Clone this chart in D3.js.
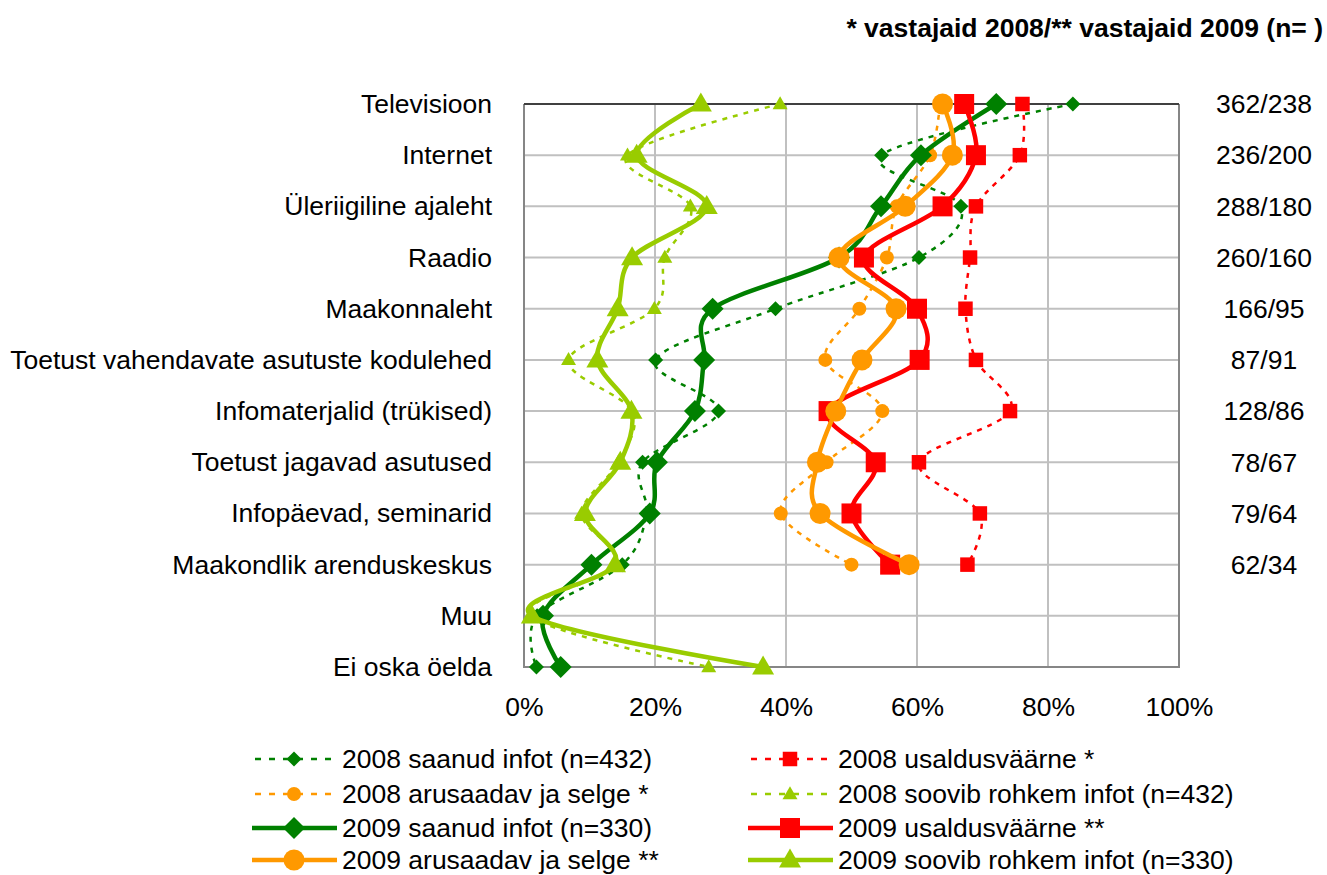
<!DOCTYPE html>
<html>
<head>
<meta charset="utf-8">
<script src="https://cdn.jsdelivr.net/npm/d3@7"></script>
<style>
  body { margin: 0; background: #fff; }
  text { font-family: "Liberation Sans", Arial, sans-serif; fill: #000; }
</style>
</head>
<body>
<div id="chart"></div>
<script>
// categories (top to bottom)
const categories = [
  "Televisioon", "Internet", "Üleriigiline ajaleht", "Raadio", "Maakonnaleht",
  "Toetust vahendavate asutuste kodulehed", "Infomaterjalid (trükised)",
  "Toetust jagavad asutused", "Infopäevad, seminarid", "Maakondlik arenduskeskus",
  "Muu", "Ei oska öelda"
];
const nLabels = ["362/238", "236/200", "288/180", "260/160", "166/95", "87/91",
  "128/86", "78/67", "79/64", "62/34", "", ""];
const xTicks = [0, 20, 40, 60, 80, 100];

// values in %
const saanud2008 = [83.8, 54.6, 66.7, 60.3, 38.4, 20.1, 29.7, 18.1, 18.7, 15.0, 2.0, 1.9];
const usaldus2008 = [76.1, 75.7, 69.0, 68.1, 67.4, 69.0, 74.2, 60.3, 69.6, 67.7, null, null];
const arusaadav2008 = [63.5, 62.0, 56.9, 55.4, 51.2, 46.0, 54.7, 46.2, 39.2, 50.0, null, null];
const soovib2008 = [39.1, 15.8, 25.4, 21.5, 19.9, 6.8, 16.5, 14.4, 8.8, 14.0, 1.0, 28.2];
const saanud2009 = [72.1, 60.6, 54.5, 48.1, 28.8, 27.5, 26.1, 20.3, 19.2, 10.3, 2.9, 5.6];
const usaldus2009 = [67.2, 69.0, 63.9, 51.9, 60.0, 60.4, 46.5, 53.7, 50.0, 55.9, null, null];
const arusaadav2009 = [63.9, 65.4, 58.2, 48.1, 56.8, 51.6, 47.6, 44.8, 45.2, 58.8, null, null];
const soovib2009 = [27.0, 17.2, 27.9, 16.5, 14.3, 11.2, 16.4, 14.7, 9.3, 13.9, 1.2, 36.5];

const seriesNames = [
  "2008 saanud infot (n=432)", "2008 usaldusväärne *",
  "2008 arusaadav ja selge *", "2008 soovib rohkem infot (n=432)",
  "2009 saanud infot (n=330)", "2009 usaldusväärne **",
  "2009 arusaadav ja selge **", "2009 soovib rohkem infot (n=330)"
];
const seriesValues = [saanud2008, usaldus2008, arusaadav2008, soovib2008,
  saanud2009, usaldus2009, arusaadav2009, soovib2009];
const seriesColors = ["#008000", "#ff0000", "#ff9900", "#99cc00",
  "#008000", "#ff0000", "#ff9900", "#99cc00"];
const seriesMarkers = ["diamond", "square", "circle", "triangle",
  "diamond", "square", "circle", "triangle"];

const width = 1327, height = 875;
const plot = { left: 524, right: 1179, top: 104, bottom: 667 };
const fontSize = "26.5px";

const svg = d3.select("#chart").append("svg")
  .attr("width", width).attr("height", height);

const xScale = d3.scaleLinear().domain([0, 100]).range([plot.left, plot.right]);
const yScale = d3.scalePoint().domain(categories).range([plot.top, plot.bottom]);

// gridlines
svg.append("g").selectAll("line")
  .data(categories)
  .join("line")
  .attr("x1", plot.left).attr("x2", plot.right)
  .attr("y1", d => yScale(d)).attr("y2", d => yScale(d))
  .attr("stroke", "#c0c0c0").attr("stroke-width", 2);
svg.append("g").selectAll("line")
  .data([20, 40, 60, 80])
  .join("line")
  .attr("x1", d => xScale(d)).attr("x2", d => xScale(d))
  .attr("y1", plot.top).attr("y2", plot.bottom)
  .attr("stroke", "#c0c0c0").attr("stroke-width", 2);

// border
svg.append("path")
  .attr("d", `M${plot.left},${plot.top}V${plot.bottom}H${plot.right}V${plot.top}`)
  .attr("fill", "none").attr("stroke", "#868686").attr("stroke-width", 2);
svg.append("line")
  .attr("x1", plot.left).attr("x2", plot.right)
  .attr("y1", plot.top).attr("y2", plot.top)
  .attr("stroke", "#404040").attr("stroke-width", 2);

// axes
const xAxis = svg.append("g")
  .attr("transform", `translate(0,${plot.bottom})`)
  .call(d3.axisBottom(xScale).tickValues(xTicks).tickSize(0).tickPadding(30)
    .tickFormat(d => d + "%"));
xAxis.select(".domain").remove();
xAxis.selectAll("text").style("font-size", fontSize)
  .style("font-family", "Liberation Sans, Arial, sans-serif").attr("fill", "#000");

const yAxis = svg.append("g")
  .attr("transform", `translate(${plot.left},0)`)
  .call(d3.axisLeft(yScale).tickSize(0).tickPadding(32));
yAxis.select(".domain").remove();
yAxis.selectAll("text").style("font-size", fontSize)
  .style("font-family", "Liberation Sans, Arial, sans-serif").attr("fill", "#000");

// right side labels
svg.append("g").selectAll("text")
  .data(categories)
  .join("text")
  .attr("x", 1264)
  .attr("y", d => yScale(d))
  .attr("dy", "0.35em")
  .attr("text-anchor", "middle")
  .style("font-size", fontSize)
  .text((d, i) => nLabels[i]);

// title
svg.append("text")
  .attr("x", 1323).attr("y", 37)
  .attr("text-anchor", "end")
  .style("font-size", fontSize).style("font-weight", "bold")
  .text("* vastajaid 2008/** vastajaid 2009 (n= )");

// marker drawing
function marker(sel, type, big, color) {
  if (type === "circle") {
    sel.append("circle").attr("r", big ? 10.5 : 7).attr("fill", color);
  } else if (type === "square") {
    const s = big ? 20 : 14.5;
    sel.append("rect").attr("x", -s / 2).attr("y", -s / 2)
      .attr("width", s).attr("height", s).attr("fill", color);
  } else if (type === "diamond") {
    const r = big ? 11 : 7.5;
    sel.append("path").attr("d", `M0,${-r}L${r},0L0,${r}L${-r},0Z`).attr("fill", color);
  } else {
    const w = big ? 11 : 7.5, h = big ? 19 : 13;
    sel.append("path")
      .attr("d", `M0,${-h * 0.6}L${w},${h * 0.4}L${-w},${h * 0.4}Z`)
      .attr("fill", color);
  }
}

const line = d3.line()
  .defined(d => d.v != null)
  .x(d => xScale(d.v))
  .y(d => yScale(d.c))
  .curve(d3.curveCardinal.tension(0));

seriesValues.forEach((vals, i) => {
  const big = i >= 4;
  const pts = vals.map((v, j) => ({ c: categories[j], v: v }));
  const g = svg.append("g");
  g.append("path")
    .datum(pts)
    .attr("d", line)
    .attr("fill", "none")
    .attr("stroke", seriesColors[i])
    .attr("stroke-width", big ? 4.5 : 2.5)
    .attr("stroke-dasharray", big ? null : "5,6");
  g.selectAll("g.m")
    .data(pts.filter(d => d.v != null))
    .join("g")
    .attr("class", "m")
    .attr("transform", d => `translate(${xScale(d.v)},${yScale(d.c)})`)
    .each(function () { marker(d3.select(this), seriesMarkers[i], big, seriesColors[i]); });
});

// legend (row by row, two columns)
const legendRows = [759, 794, 828, 860];
const legendCols = [252, 748];
seriesNames.forEach((name, i) => {
  const big = i >= 4;
  const lx = legendCols[i % 2], ly = legendRows[Math.floor(i / 2)];
  const g = svg.append("g").attr("transform", `translate(${lx},${ly})`);
  g.append("line")
    .attr("x1", 0).attr("x2", 85).attr("y1", 0).attr("y2", 0)
    .attr("stroke", seriesColors[i])
    .attr("stroke-width", big ? 4.5 : 2.5)
    .attr("stroke-dasharray", big ? null : "6,8")
    .attr("stroke-dashoffset", big ? 0 : -3);
  const m = g.append("g").attr("transform", "translate(42,0)");
  marker(m, seriesMarkers[i], big, seriesColors[i]);
  g.append("text")
    .attr("x", 90).attr("y", 0).attr("dy", "0.35em")
    .style("font-size", fontSize)
    .text(name);
});
</script>
</body>
</html>
